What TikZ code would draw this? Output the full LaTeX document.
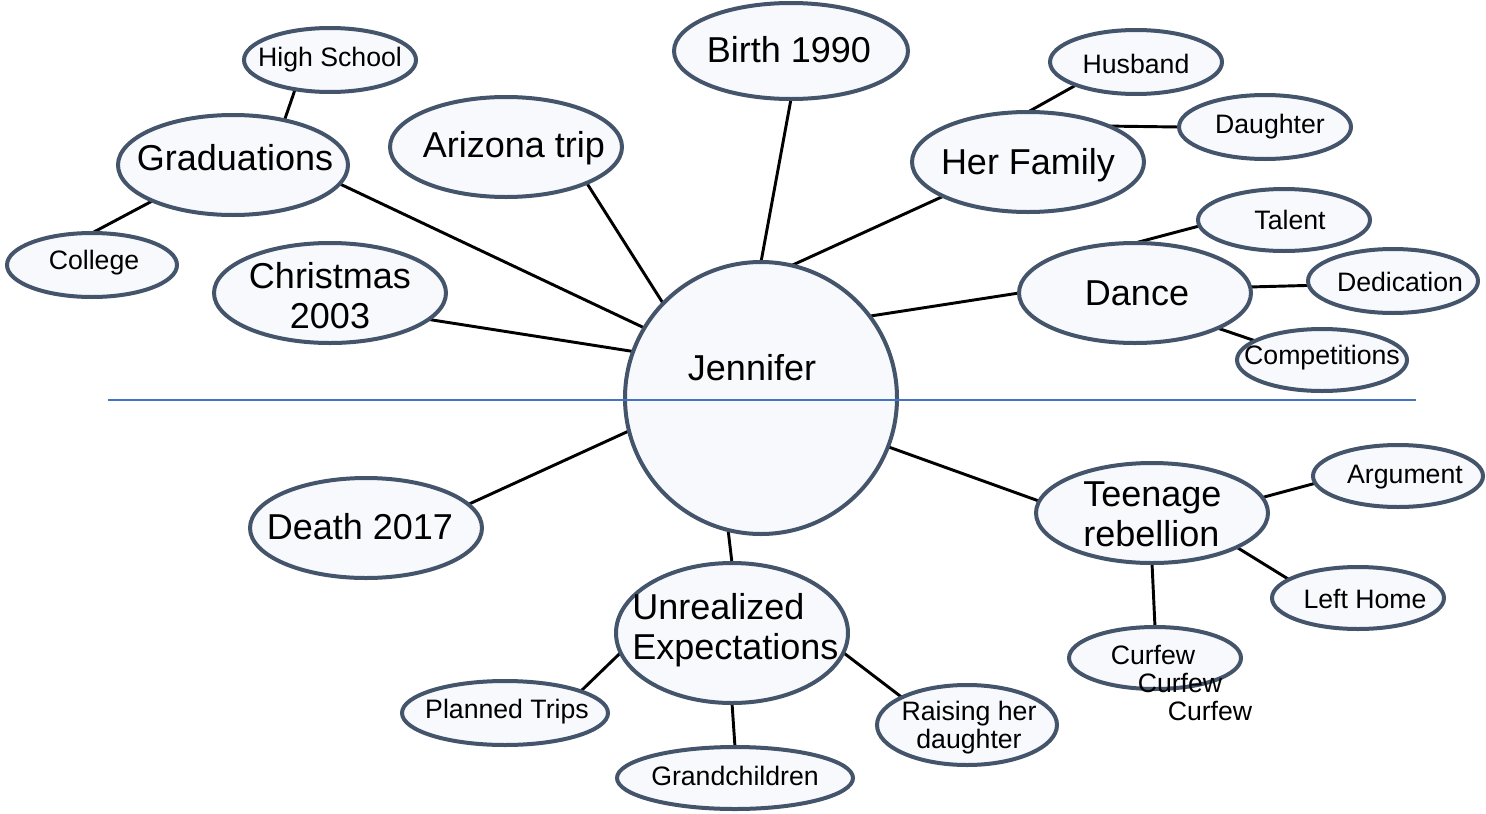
\documentclass[tikz,border=0pt]{standalone}
\usepackage{fontspec}
\setmainfont{Liberation Sans}
\usetikzlibrary{shapes.geometric,backgrounds}
\definecolor{bord}{HTML}{44546A}
\definecolor{bubfill}{HTML}{F7F9FD}
\definecolor{divline}{HTML}{4472C4}
\tikzset{
  bub/.style 2 args={ellipse, draw=bord, fill=bubfill, line width=3pt, inner sep=0pt, outer sep=0pt,
    minimum width={#1*1.5pt}, minimum height={#2*1.5pt}},
  bigtxt/.style={font=\fontsize{27}{30}\selectfont, inner sep=0pt, align=center},
  smalltxt/.style={font=\fontsize{20}{21}\selectfont, inner sep=0pt, align=center},
  conn/.style={draw=black, line width=2.2pt},
  divider/.style={draw=divline, line width=1.1pt}
}
\begin{document}
\begin{tikzpicture}[x=0.75pt,y=-0.75pt]
\useasboundingbox (0,0) rectangle (1486,814);
% central circle
\node[circle, draw=bord, fill=bubfill, line width=3pt, inner sep=0pt, outer sep=0pt, minimum size=204pt] (jen) at (761,398) {};
% main bubbles
\node[bub={117}{48}] (birth) at (791,51) {};
\node[bub={116}{50}] (ariz) at (506,147) {};
\node[bub={115}{50}] (grad) at (233,165) {};
\node[bub={86}{32}] (hs) at (330,60) {};
\node[bub={85}{32}] (coll) at (92,265) {};
\node[bub={116}{50}] (xmas) at (330,293) {};
\node[bub={116}{50}] (fam) at (1028,162) {};
\node[bub={86}{32}] (hus) at (1136,62) {};
\node[bub={86}{32}] (dau) at (1265,127) {};
\node[bub={116}{50}] (dance) at (1135,293) {};
\node[bub={86}{31}] (tal) at (1284,220) {};
\node[bub={85}{32}] (ded) at (1393,281) {};
\node[bub={85}{31}] (comp) at (1322,360) {};
\node[bub={116}{50}] (death) at (366,528) {};
\node[bub={116}{70}] (unr) at (732,633) {};
\node[bub={103}{32}] (plan) at (505,713) {};
\node[bub={118}{31}] (grand) at (735,778) {};
\node[bub={90}{40}] (rais) at (967,725) {};
\node[bub={116}{50}] (teen) at (1152,513) {};
\node[bub={85}{31}] (arg) at (1398,476) {};
\node[bub={86}{31}] (left) at (1358,598) {};
\node[bub={86}{31}] (curf) at (1155,658) {};
% connectors
\begin{scope}[on background layer]
\draw[conn] (jen.90) -- (birth.south);
\draw[conn] (jen.77) -- (fam.202);
\draw[conn] (jen.37) -- (dance.west);
\draw[conn] (jen.-21) -- (teen.174);
\draw[conn] (jen.256) -- (unr.north);
\draw[conn] (jen.194) -- (death.13);
\draw[conn] (jen.160) -- (xmas.345);
\draw[conn] (jen.149) -- (grad.350);
\draw[conn] (jen.136) -- (ariz.336);
\draw[conn] (grad.41) -- (hs.220);
\draw[conn] (grad.204) -- (coll.north);
\draw[conn] (fam.north) -- (hus.201);
\draw[conn] (fam.24) -- (dau.west);
\draw[conn] (dance.north) -- (tal.184);
\draw[conn] (dance.3) -- (ded.183);
\draw[conn] (dance.-23) -- (comp.164);
\draw[conn] (teen.8) -- (arg.185);
\draw[conn] (teen.-22) -- (left.165);
\draw[conn] (teen.south) -- (curf.north);
\draw[conn] (unr.190) -- (plan.16);
\draw[conn] (unr.south) -- (grand.north);
\draw[conn] (unr.-10) -- (rais.157);
\end{scope}
% labels
\node[bigtxt] (jen-t) at (752,368) {Jennifer};
\node[bigtxt] (birth-t) at (789,50) {Birth 1990};
\node[bigtxt] (ariz-t) at (514,148) {Arizona trip};
\node[bigtxt] (grad-t) at (235,158) {Graduations};
\node[bigtxt] (xmas-t) at (330,296) {Christmas\\2003};
\node[bigtxt] (fam-t) at (1028,165) {Her Family};
\node[bigtxt] (dance-t) at (1137,293) {Dance};
\node[bigtxt] (death-t) at (360,527) {Death 2017};
\node[bigtxt, align=left, anchor=west] (teen-t) at (1083,514) {Teenage\\rebellion};
\node[bigtxt, align=left, anchor=west] (unr-t) at (632,630) {Unrealized\\Expectations};
\node[smalltxt] (hs-t) at (330,60) {High School};
\node[smalltxt] (coll-t) at (94,263) {College};
\node[smalltxt] (hus-t) at (1136,64) {Husband};
\node[smalltxt] (dau-t) at (1270,127) {Daughter};
\node[smalltxt] (tal-t) at (1290,220) {Talent};
\node[smalltxt] (ded-t) at (1400,282) {Dedication};
\node[smalltxt] (comp-t) at (1322,358) {Competitions};
\node[smalltxt] (arg-t) at (1405,477) {Argument};
\node[smalltxt] (left-t) at (1365,599) {Left Home};
\node[smalltxt] (curf-t) at (1153,655) {Curfew};
\node[smalltxt] (curf-t2) at (1180,683) {Curfew};
\node[smalltxt] (curf-t3) at (1210,711) {Curfew};
\node[smalltxt] (plan-t) at (507,712) {Planned Trips};
\node[smalltxt] (grand-t) at (735,776) {Grandchildren};
\node[smalltxt] (rais-t) at (969,728) {Raising her\\daughter};
% divider line
\coordinate (divl) at (108,400);
\coordinate (divr) at (1416,400);
\draw[divider] (divl) -- (divr);
\end{tikzpicture}
\end{document}
